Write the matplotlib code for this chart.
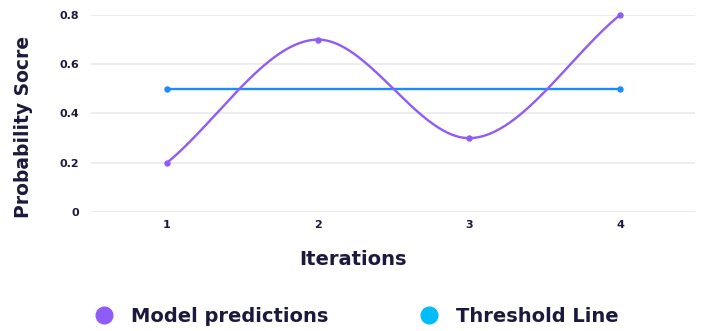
import numpy as np
import matplotlib
matplotlib.use("Agg")
import matplotlib.pyplot as plt
from matplotlib.lines import Line2D

# Data
iterations = [1, 2, 3, 4]
model_predictions = [0.2, 0.7, 0.3, 0.8]
threshold_x = [1, 4]
threshold_line = [0.5, 0.5]
y_ticks = [0, 0.2, 0.4, 0.6, 0.8]
y_tick_labels = ["0", "0.2", "0.4", "0.6", "0.8"]

PURPLE = "#8f5cf7"
BLUE = "#1a8cff"
LEGEND_BLUE = "#00bcf8"
TEXT = "#1b1a3d"
GRID = "#ebebf0"

plt.rcParams["font.family"] = ["DejaVu Sans"]


def monotone_curve(x, y, n=60):
    """Monotone cubic (Fritsch-Carlson) interpolation through the points."""
    x = np.asarray(x, float)
    y = np.asarray(y, float)
    d = np.diff(y) / np.diff(x)
    m = np.zeros_like(y)
    m[0], m[-1] = d[0], d[-1]
    for i in range(1, len(y) - 1):
        m[i] = 0.0 if d[i - 1] * d[i] <= 0 else (d[i - 1] + d[i]) / 2
    for i in range(len(d)):
        if d[i] == 0:
            m[i] = m[i + 1] = 0
            continue
        a, b = m[i] / d[i], m[i + 1] / d[i]
        s = a * a + b * b
        if s > 9:
            t = 3 / np.sqrt(s)
            m[i], m[i + 1] = t * a * d[i], t * b * d[i]
    xs, ys = [], []
    for i in range(len(d)):
        h = x[i + 1] - x[i]
        t = np.linspace(0, 1, n)
        h00 = 2 * t**3 - 3 * t**2 + 1
        h10 = t**3 - 2 * t**2 + t
        h01 = -2 * t**3 + 3 * t**2
        h11 = t**3 - t**2
        xs.append(x[i] + t * h)
        ys.append(h00 * y[i] + h10 * h * m[i] + h01 * y[i + 1] + h11 * h * m[i + 1])
    return np.concatenate(xs), np.concatenate(ys)


fig = plt.figure(figsize=(7.01, 3.31), dpi=100)
ax = fig.add_axes([0.1305, 0.3595, 0.8616, 0.5952])

for yv in y_ticks:
    ax.axhline(yv, color=GRID, lw=1.3, zorder=0)

cx, cy = monotone_curve(iterations, model_predictions)
ax.plot(cx, cy, color=PURPLE, lw=1.7, zorder=3, clip_on=False)
ax.plot(iterations, model_predictions, "o", color=PURPLE, ms=3.6, zorder=4, clip_on=False)
ax.plot(threshold_x, threshold_line, color=BLUE, lw=1.7, zorder=2)
ax.plot(threshold_x, threshold_line, "o", color=BLUE, ms=3.6, zorder=2)

ax.set_xlim(0.5, 4.5)
ax.set_ylim(0, 0.8)
ax.set_xticks(iterations)
ax.set_xticklabels([str(i) for i in iterations])
ax.set_yticks(y_ticks)
ax.set_yticklabels(y_tick_labels)
ax.tick_params(length=0, labelsize=8, labelcolor=TEXT)
ax.tick_params(axis="x", pad=6)
ax.tick_params(axis="y", pad=9)
for lbl in ax.get_xticklabels() + ax.get_yticklabels():
    lbl.set_fontweight("bold")
for s in ax.spines.values():
    s.set_visible(False)

ax.set_xlabel("Iterations", fontsize=14, fontweight="bold", color=TEXT, va="center")
ax.xaxis.set_label_coords(0.433, -0.239)
ax.set_ylabel("Probability Socre", fontsize=13.5, fontweight="bold", color=TEXT, va="center")
ax.yaxis.set_label_coords(-0.112, 0.431)

handles = [
    Line2D([], [], ls="none", marker="o", ms=12, color=PURPLE, label="Model predictions"),
    Line2D([], [], ls="none", marker="o", ms=12, color=LEGEND_BLUE, label="Threshold Line"),
]
leg = fig.legend(handles=handles, loc="center left", bbox_to_anchor=(0.095, 0.043),
                 ncol=2, frameon=False, handletextpad=0.4, columnspacing=4.2,
                 prop={"size": 14, "weight": "bold"})
for t in leg.get_texts():
    t.set_color(TEXT)

fig.savefig("out.png", dpi=100)
